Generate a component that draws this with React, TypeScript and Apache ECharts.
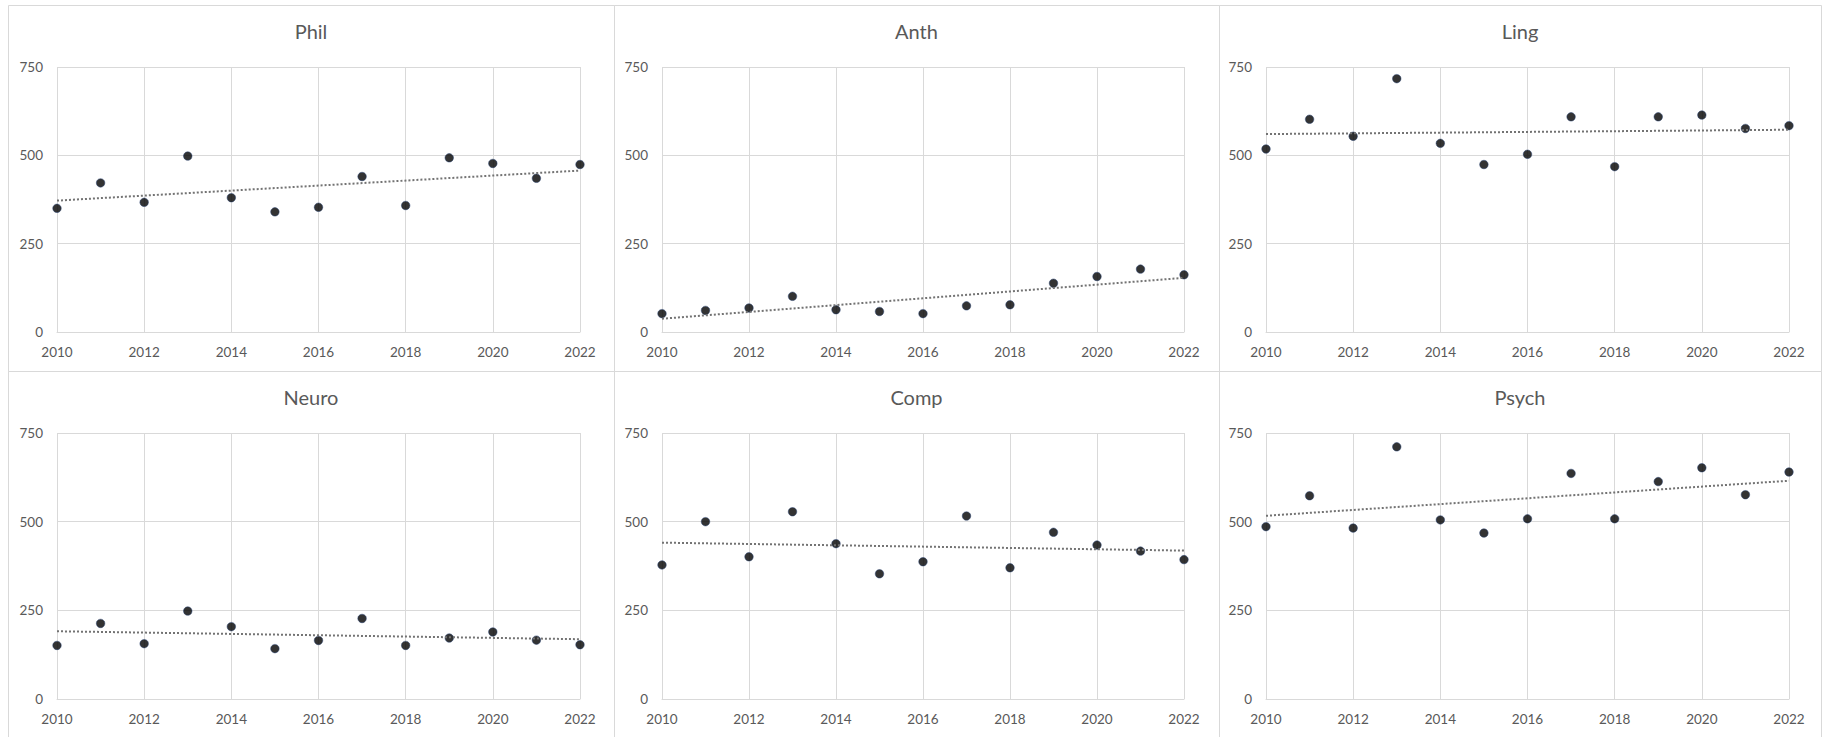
import React, { useEffect, useRef } from 'react';
import * as echarts from 'echarts';

// ---- data ----
const years = [2010, 2011, 2012, 2013, 2014, 2015, 2016, 2017, 2018, 2019, 2020, 2021, 2022];
const yTicks = [0, 250, 500, 750];
const xTicks = [2010, 2012, 2014, 2016, 2018, 2020, 2022];

const phil = [350, 422, 367, 498, 380, 340, 353, 440, 358, 493, 477, 435, 474];
const anth = [52, 61, 68, 101, 63, 58, 52, 74, 77, 138, 157, 178, 162];
const ling = [518, 602, 554, 717, 534, 474, 503, 609, 468, 609, 614, 576, 584];
const neuro = [151, 213, 156, 248, 204, 142, 165, 227, 151, 172, 189, 166, 153];
const comp = [378, 500, 401, 528, 438, 353, 387, 516, 370, 470, 434, 417, 393];
const psych = [486, 573, 482, 711, 505, 468, 508, 636, 508, 613, 652, 576, 640];

const panelNames = ['Phil', 'Anth', 'Ling', 'Neuro', 'Comp', 'Psych'];
const panelValues = [phil, anth, ling, neuro, comp, psych];

// ---- layout ----
const colX = [[8, 614], [614, 1219], [1219, 1821]];
const rowY = [[5, 371], [371, 745]];
const plotX = [[57, 580], [662, 1184], [1266, 1789]];
const plotY = [[67, 332], [433, 699]];
const titleCY = [33, 399];

const FONT = 'Lato';
const TEXT = '#595959';
const GRID = '#d9d9d9';

function linearFit(xs: number[], ys: number[]) {
  const n = xs.length;
  const mx = xs.reduce((a, b) => a + b, 0) / n;
  const my = ys.reduce((a, b) => a + b, 0) / n;
  let sxy = 0;
  let sxx = 0;
  for (let i = 0; i < n; i++) {
    sxy += (xs[i] - mx) * (ys[i] - my);
    sxx += (xs[i] - mx) * (xs[i] - mx);
  }
  const b = sxy / sxx;
  const a = my - b * mx;
  const x0 = xs[0];
  const x1 = xs[n - 1];
  return [[x0, a + b * x0], [x1, a + b * x1]];
}

export default function App() {
  const ref = useRef<HTMLDivElement>(null);

  useEffect(() => {
    if (!ref.current) return;
    const chart = echarts.init(ref.current, undefined, { renderer: 'svg' });

    const grids: any[] = [];
    const xAxes: any[] = [];
    const yAxes: any[] = [];
    const series: any[] = [];
    const titles: any[] = [];
    const graphics: any[] = [];

    panelNames.forEach((name, i) => {
      const c = i % 3;
      const r = Math.floor(i / 3);
      grids.push({
        left: plotX[c][0],
        top: plotY[r][0],
        width: plotX[c][1] - plotX[c][0],
        height: plotY[r][1] - plotY[r][0],
        containLabel: false,
      });
      xAxes.push({
        type: 'value',
        gridIndex: i,
        min: xTicks[0],
        max: xTicks[xTicks.length - 1],
        interval: 2,
        axisLine: { show: true, lineStyle: { color: GRID, width: 1 } },
        axisTick: { show: false },
        axisLabel: {
          color: TEXT,
          fontFamily: FONT,
          fontSize: 13.5,
          margin: 13,
          formatter: (v: number) => String(v),
        },
        splitLine: { show: true, lineStyle: { color: GRID, width: 1 } },
      });
      yAxes.push({
        type: 'value',
        gridIndex: i,
        min: yTicks[0],
        max: yTicks[yTicks.length - 1],
        interval: 250,
        axisLine: { show: false },
        axisTick: { show: false },
        axisLabel: {
          color: TEXT,
          fontFamily: FONT,
          fontSize: 13.5,
          margin: 14,
          formatter: (v: number) => String(v),
        },
        splitLine: { show: true, lineStyle: { color: GRID, width: 1 } },
      });
      const vals = panelValues[i];
      series.push({
        type: 'scatter',
        name,
        xAxisIndex: i,
        yAxisIndex: i,
        symbol: 'circle',
        symbolSize: 8.5,
        z: 2,
        itemStyle: { color: '#000000', borderColor: '#1f3a6e', borderWidth: 0.6 },
        data: years.map((y, j) => [y, vals[j]]),
      });
      series.push({
        type: 'line',
        name: name + ' trend',
        xAxisIndex: i,
        yAxisIndex: i,
        symbol: 'none',
        z: 3,
        silent: true,
        lineStyle: { color: '#737373', width: 2, type: [2, 2] },
        data: linearFit(years, vals),
      });
      titles.push({
        text: name,
        left: (colX[c][0] + colX[c][1]) / 2,
        top: titleCY[r] - 12,
        textAlign: 'center',
        padding: 0,
        textStyle: { fontFamily: FONT, fontSize: 20, fontWeight: 'normal', color: TEXT },
      });
      graphics.push({
        type: 'rect',
        silent: true,
        z: -10,
        shape: {
          x: colX[c][0] + 0.5,
          y: rowY[r][0] + 0.5,
          width: colX[c][1] - colX[c][0],
          height: rowY[r][1] - rowY[r][0],
        },
        style: { fill: 'none', stroke: GRID, lineWidth: 1 },
      });
    });

    chart.setOption({
      animation: false,
      backgroundColor: '#ffffff',
      title: titles,
      grid: grids,
      xAxis: xAxes,
      yAxis: yAxes,
      series,
      graphic: graphics,
    });

    return () => chart.dispose();
  }, []);

  return (
    <div
      ref={ref}
      style={{ position: 'absolute', left: 0, top: 0, width: 1830, height: 737, background: '#fff' }}
    />
  );
}
